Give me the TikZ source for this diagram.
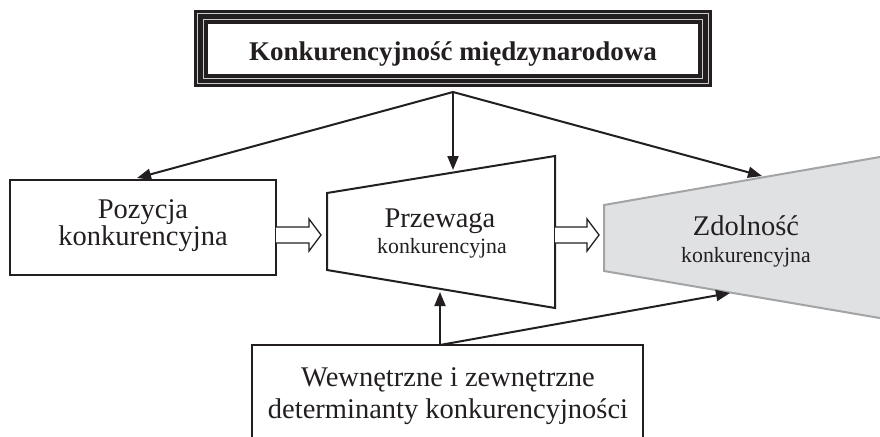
\documentclass[tikz,border=0pt]{standalone}
\usepackage{fontspec}
\setmainfont{Liberation Serif}
\newfontfamily\topfont{Liberation Serif}
\usetikzlibrary{arrows.meta}
\definecolor{ink}{HTML}{231F20}
\definecolor{zfill}{HTML}{E0E1E3}
\definecolor{zline}{HTML}{A3A4A6}
\begin{document}
\begin{tikzpicture}[x=1pt,y=-1pt,
  conn/.style={line width=2pt, draw=ink, -{Triangle[length=14pt,width=11pt]}},
  hollow/.style={draw=ink, line width=1.3pt, fill=white, line join=miter},
  boxline/.style={draw=ink, line width=2pt},
  big/.style={font=\fontsize{28.5}{30}\selectfont, anchor=base, inner sep=0pt, text=ink},
  small/.style={font=\fontsize{21.8}{26}\selectfont, anchor=base, inner sep=0pt, text=ink},
  toptext/.style={font=\topfont\bfseries\fontsize{27}{30}\selectfont, anchor=base, inner sep=0pt, text=ink}]
\useasboundingbox (0,0) rectangle (880,436);
\clip (0,0) rectangle (880,436);
\fill[white] (0,0) rectangle (880,436);

% top framed box
\fill[ink] (194,10) rectangle (712,87);
\draw[gray!40, line width=1pt] (197.5,13.5) rectangle (708.5,83.5);
\draw[gray!40, line width=1pt] (203.5,20) rectangle (702.5,78);
\fill[white] (208,24.5) rectangle (698,74);
\node[toptext] (top) at (453,60) {Konkurencyjność międzynarodowa};
\coordinate (split) at (453,92);

% Pozycja box
\draw[boxline] (10,180) rectangle (276,275);
\node[big] (poz1) at (143,218) {Pozycja};
\node[big] (poz2) at (143,245) {konkurencyjna};
\coordinate (pozTop) at (137,178);
\coordinate (pozE) at (276,235);

% Przewaga trapezoid
\draw[boxline, line join=miter] (327,193) -- (555,156) -- (555,308) -- (327,270) -- cycle;
\node[big] (prz1) at (440,227) {Przewaga};
\node[small] (prz2) at (442,253) {konkurencyjna};
\coordinate (przTop) at (453,170);
\coordinate (przBot) at (440,292);
\coordinate (przE) at (555,235);

% Zdolnosc trapezoid
\filldraw[fill=zfill, draw=zline, line width=2pt] (604,205) -- (885,156.1) -- (885,318.9) -- (604,271) -- cycle;
\node[big] (zd1) at (746,235) {Zdolność};
\node[small] (zd2) at (746,262) {konkurencyjna};
\coordinate (zdTop) at (762,176);
\coordinate (zdBot) at (730,293);

% bottom box
\draw[boxline] (252,345) rectangle (643,470);
\node[big] (det1) at (448,386.5) {Wewnętrzne i zewnętrzne};
\node[big] (det2) at (448,418) {determinanty konkurencyjności};
\coordinate (detTop) at (440,345);

% connectors
\draw[conn] (split) -- (pozTop);
\draw[conn] (split) -- (przTop);
\draw[conn] (split) -- (zdTop);
\draw[conn] (detTop) -- (przBot);
\draw[conn] (detTop) -- (zdBot);

% hollow arrows
\draw[hollow] (pozE) ++(0,-8) -- ++(33,0) -- ++(0,-8) -- ++(12,16) -- ++(-12,16) -- ++(0,-8) -- ++(-33,0);
\draw[hollow] (przE) ++(0,-8) -- ++(32,0) -- ++(0,-8) -- ++(12,16) -- ++(-12,16) -- ++(0,-8) -- ++(-32,0);
\end{tikzpicture}
\end{document}
